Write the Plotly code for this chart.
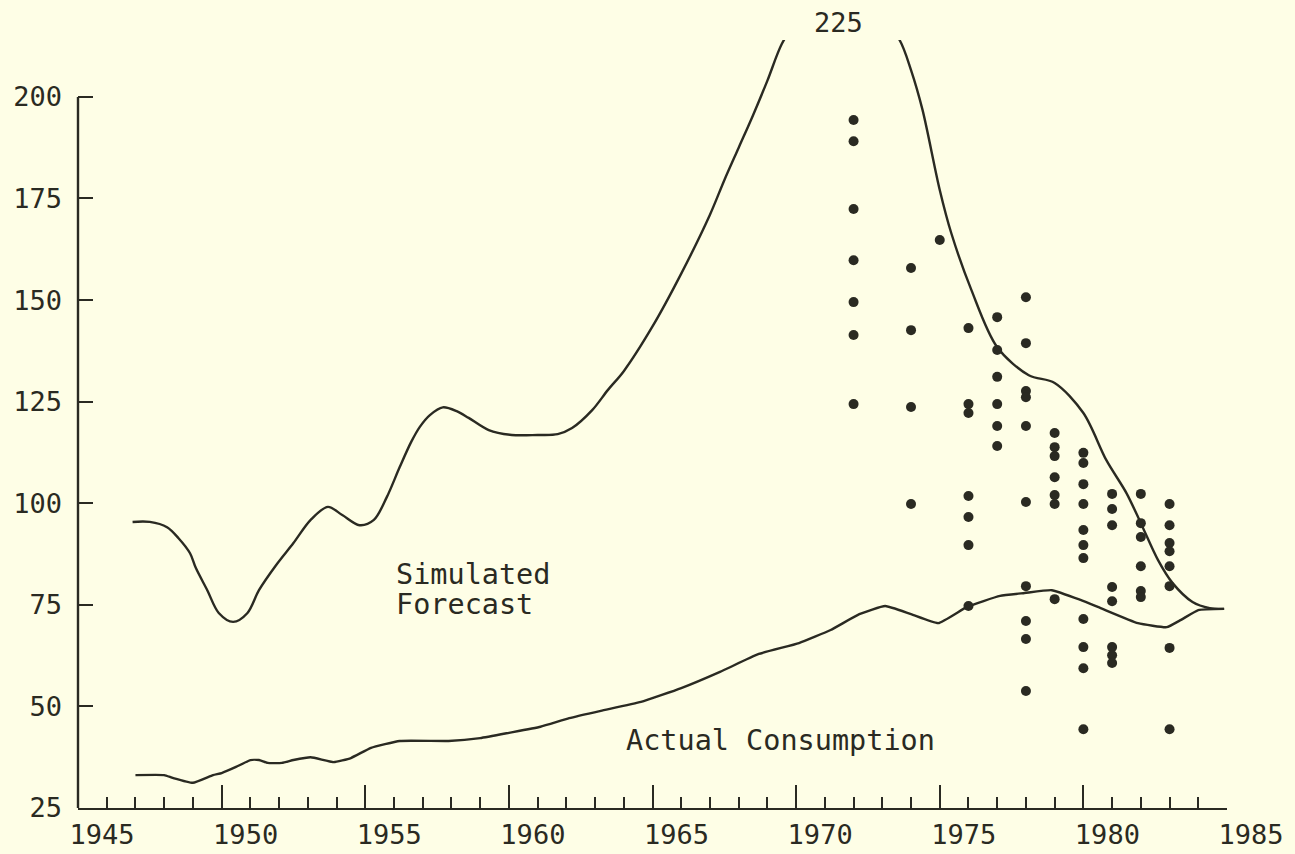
import plotly.graph_objects as go

# ---- data ----
ACTUAL_YEAR = [1947.0, 1948.0, 1948.3, 1949.0, 1949.7, 1950.0, 1950.5, 1951.0, 1951.3, 1951.6,
               1952.1, 1952.5, 1953.1, 1953.9, 1954.5, 1955.2, 1956.2, 1957.9, 1959.0, 1960.0,
               1961.1, 1962.1, 1963.2, 1964.6, 1966.0, 1967.35, 1968.7, 1970.1, 1971.2, 1972.2,
               1973.1, 1974.0, 1974.95, 1975.95, 1977.1, 1977.95, 1978.9, 1979.9, 1980.6, 1981.9,
               1982.9, 1983.4, 1984.0, 1984.9]
ACTUAL_VALUE = [33.1, 33.1, 32.4, 31.2, 33.1, 33.6, 35.1, 36.8, 36.8, 36.1,
                36.1, 36.8, 37.5, 36.3, 37.3, 39.8, 41.5, 41.5, 42.2, 43.5,
                45.0, 47.1, 48.9, 51.1, 54.5, 58.5, 62.9, 65.6, 68.8, 72.7,
                74.7, 72.7, 70.5, 74.5, 77.2, 77.9, 78.6, 76.2, 74.2, 70.5,
                69.5, 71.3, 73.7, 74.0]

SIM_YEAR = [1946.9, 1947.5, 1948.1, 1948.5, 1948.9, 1949.1, 1949.5, 1949.9, 1950.4, 1950.9,
            1951.3, 1951.9, 1952.5, 1953.1, 1953.7, 1954.2, 1954.8, 1955.3, 1955.75, 1956.2,
            1956.6, 1956.9, 1957.25, 1957.7, 1958.2, 1958.6, 1959.3, 1960.1, 1961.0, 1961.7,
            1962.2, 1962.9, 1963.45, 1964.0, 1965.0, 1966.0, 1967.0, 1967.5, 1968.0, 1968.5,
            1969.0, 1969.5, 1970.0, 1970.5, 1971.0, 1971.5, 1972.0,
            1972.5, 1973.0, 1973.6, 1974.0, 1974.4, 1975.0, 1975.4, 1976.1, 1977.0, 1978.1,
            1979.0, 1980.0, 1980.8, 1981.5, 1982.0, 1982.6, 1983.1, 1983.8, 1984.4, 1984.9]
SIM_VALUE = [95.4, 95.4, 94.1, 91.4, 87.7, 84.1, 78.6, 73.0, 70.8, 73.0,
             78.6, 84.8, 90.2, 95.9, 99.1, 97.1, 94.6, 95.9, 101.5, 108.9,
             115.1, 118.8, 121.7, 123.6, 122.6, 121.0, 118.0, 116.8, 116.8, 117.0,
             118.5, 122.9, 127.9, 132.5, 143.5, 156.5, 171.0, 179.5, 187.5, 195.5,
             204.0, 213.0, 218.5, 222.0, 224.3, 225.0, 224.5,
             222.5, 219.0, 214.0, 206.6, 196.8, 177.1, 166.5, 152.5, 138.4, 131.5,
             129.6, 122.2, 110.6, 102.5, 95.1, 86.0, 80.4, 75.7, 74.2, 74.0]

FORECAST_YEARS = [1972, 1974, 1975, 1976, 1977, 1978, 1979, 1980, 1981, 1982, 1983]
FORECAST_VALUES = [
    [194.3, 189.1, 172.4, 159.8, 149.5, 141.4, 124.4],
    [157.9, 142.6, 123.7, 99.8],
    [164.8],
    [143.1, 124.4, 122.2, 101.8, 96.6, 89.7, 74.7],
    [145.8, 137.7, 131.1, 124.4, 119.0, 114.1],
    [150.7, 139.4, 127.6, 126.1, 119.0, 100.3, 79.6, 71.0, 66.6, 53.8],
    [117.3, 113.8, 111.6, 106.4, 102.0, 99.8, 76.4],
    [112.4, 109.9, 104.7, 99.8, 93.4, 89.7, 86.5, 71.5, 64.6, 59.4, 44.4],
    [102.3, 98.6, 94.6, 79.4, 75.9, 64.6, 62.6, 60.7],
    [102.3, 95.1, 91.7, 84.5, 78.4, 76.9],
    [99.8, 94.6, 90.2, 88.2, 84.5, 79.6, 64.4, 44.4],
]

X_TICKS = [1945, 1950, 1955, 1960, 1965, 1970, 1975, 1980, 1985]
Y_TICKS = [25, 50, 75, 100, 125, 150, 175, 200]
PEAK_LABEL = "225"
PEAK_YEAR = 1971.46

# ---- style ----
INK = "#2a2a22"
BG = "#fefee6"
FONT = "DejaVu Sans Mono"

dot_x, dot_y = [], []
for yr, vals in zip(FORECAST_YEARS, FORECAST_VALUES):
    for v in vals:
        dot_x.append(yr)
        dot_y.append(v)

fig = go.Figure()
fig.add_trace(go.Scatter(x=SIM_YEAR, y=SIM_VALUE, mode="lines",
                         line=dict(color=INK, width=2.4, shape="spline", smoothing=0.9),
                         showlegend=False))
fig.add_trace(go.Scatter(x=ACTUAL_YEAR, y=ACTUAL_VALUE, mode="lines",
                         line=dict(color=INK, width=2.4, shape="spline", smoothing=0.4),
                         showlegend=False))
fig.add_trace(go.Scatter(x=dot_x, y=dot_y, mode="markers",
                         marker=dict(color=INK, size=10), showlegend=False))

# y axis line only from 25 to 200
fig.add_shape(type="line", xref="paper", yref="y", x0=0, x1=0,
              y0=Y_TICKS[0], y1=Y_TICKS[-1], line=dict(color=INK, width=2.4), layer="above")

ann_font = dict(family=FONT, size=28.5, color=INK)
fig.add_annotation(x=PEAK_YEAR, y=1.023, xref="x", yref="paper", text=PEAK_LABEL,
                   yanchor="middle", showarrow=False, font=dict(family=FONT, size=27, color=INK))
fig.add_annotation(x=1956.0, y=82.5, xref="x", yref="y", text="Simulated", xanchor="left",
                   yanchor="middle", height=29, valign="middle", showarrow=False, font=ann_font)
fig.add_annotation(x=1956.0, y=75.0, xref="x", yref="y", text="Forecast", xanchor="left",
                   yanchor="middle", height=29, valign="middle", showarrow=False, font=ann_font)
fig.add_annotation(x=1964.0, y=41.7, xref="x", yref="y", text="Actual Consumption", xanchor="left",
                   yanchor="middle", showarrow=False, font=ann_font)

fig.update_layout(
    width=1295, height=854,
    margin=dict(l=78, r=68, t=40, b=46),
    paper_bgcolor=BG, plot_bgcolor=BG,
    xaxis=dict(range=[1945, 1985], tickvals=X_TICKS, ticks="inside", ticklen=23, tickwidth=2.4,
               tickcolor=INK, showline=True, linewidth=2.4, linecolor=INK, showgrid=False,
               zeroline=False, automargin=False, tickfont=dict(family=FONT, size=27, color=INK),
               ticklabelshift=24, ticklabelstandoff=1,
               minor=dict(tick0=1945, dtick=1, ticks="inside", ticklen=11, tickwidth=2.4,
                          tickcolor=INK, showgrid=False)),
    yaxis=dict(range=[25, 214], tickvals=Y_TICKS, ticks="inside", ticklen=15, tickwidth=2.4,
               tickcolor=INK, showline=False, showgrid=False, zeroline=False, automargin=False,
               tickfont=dict(family=FONT, size=27, color=INK), ticklabelstandoff=15),
)

fig.write_html("out.html", config={"displayModeBar": False},
               post_script="document.body.style.margin='0px';document.body.style.overflow='hidden';"
                           "document.body.style.background='" + BG + "';")
